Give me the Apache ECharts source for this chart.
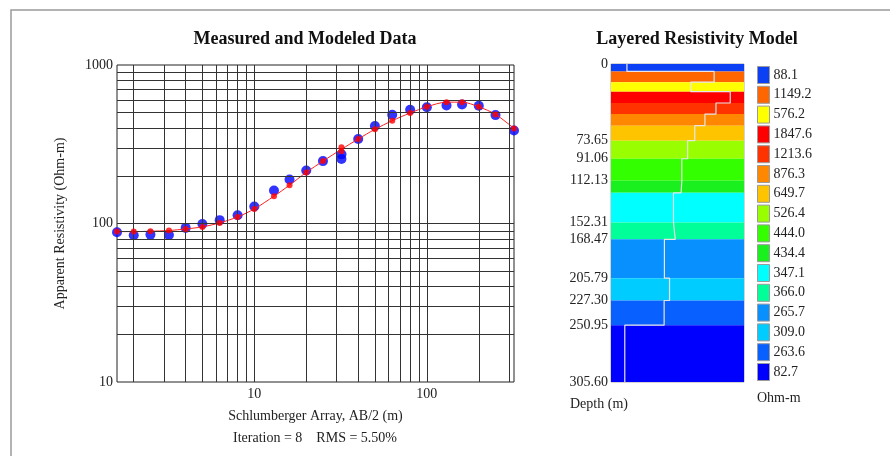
<!DOCTYPE html>
<html>
<head>
    <meta charset="utf-8">
    <title>Measured and Modeled Data</title>
    <script src="https://cdn.jsdelivr.net/npm/echarts@6/dist/echarts.min.js"></script>
</head>
<body style="margin:0;background:#fff">
    <div id="main" style="width: 890px;height:456px;"></div>
    <script type="text/javascript">
        // sounding data: AB/2 spacing, measured and modeled apparent resistivity
        var ab2 = [1.6, 2, 2.5, 3.2, 4, 5, 6.3, 8, 10, 13, 16, 20, 25, 32, 32, 40, 50, 63, 80, 100, 130, 160, 200, 250, 320];
        var measured = [88.1, 84.3, 85.1, 84.7, 93.8, 99.4, 105, 112.8, 128, 161.5, 189.6, 216, 247.6, 273, 255, 341, 412, 485, 522, 541, 556, 564, 553, 483, 386];
        var modeled = [88.9, 88.9, 89.4, 90.3, 92.4, 95.2, 100.9, 110, 123.6, 148.6, 174.6, 210, 247.6, 303, 286, 341, 393, 445, 498, 545, 583, 583, 545, 488, 398];
        // modeled curve (one value per spacing)
        var curveAb2 = [1.6, 2, 2.5, 3.2, 4, 5, 6.3, 8, 10, 13, 16, 20, 25, 32, 40, 50, 63, 80, 100, 130, 160, 200, 250, 320];
        var curveRho = [88.9, 88.9, 89.4, 90.3, 92.4, 95.2, 100.9, 110, 123.6, 148.6, 174.6, 210, 247.6, 294, 341, 393, 445, 498, 545, 583, 583, 545, 488, 398];

        // grid lines and tick labels of the log-log plot
        var xGridValues = [2, 3, 4, 5, 6, 7, 8, 9, 10, 20, 30, 40, 50, 60, 70, 80, 90, 100, 200, 300];
        var yGridValues = [20, 30, 40, 50, 60, 70, 80, 90, 100, 200, 300, 400, 500, 600, 700, 800, 900];
        var xTicks = [10, 100];
        var yTicks = [10, 100, 1000];

        // layered model
        var depthBounds = [0, 7.1, 17.5, 26.6, 37.5, 48.1, 59.3, 73.65, 91.06, 112.13, 123.8, 152.31, 168.47, 205.79, 227.30, 250.95, 305.60];
        var layerRho = [88.1, 1149.2, 576.2, 1847.6, 1213.6, 876.3, 649.7, 526.4, 444.0, 434.4, 347.1, 366.0, 265.7, 309.0, 263.6, 82.7];
        var depthTicks = [0, 73.65, 91.06, 112.13, 152.31, 168.47, 205.79, 227.30, 250.95, 305.60];
        var depthTickLabels = ['0', '73.65', '91.06', '112.13', '152.31', '168.47', '205.79', '227.30', '250.95', '305.60'];

        var layerColors = ['#0b40f5', '#ff6600', '#ffff00', '#ff0000', '#ff3300', '#ff8800', '#ffc400', '#99ff00',
            '#33ff00', '#19f01e', '#00ffff', '#00ff99', '#0890ff', '#00ccff', '#0860ff', '#0000ff'];

        var serif = 'Liberation Serif';
        var rhoMin = 55.1, rhoMax = 2771;

        var myChart = echarts.init(document.getElementById('main'));

        // one custom series per layer so the legend lists them
        var layerSeries = layerRho.map(function (r, i) {
            return {
                type: 'custom',
                name: r.toFixed(1),
                xAxisIndex: 1,
                yAxisIndex: 1,
                silent: true,
                itemStyle: { color: layerColors[i] },
                encode: { x: 0, y: [1, 2] },
                data: [[r, depthBounds[i], depthBounds[i + 1]]],
                renderItem: function (params, api) {
                    var p0 = api.coord([rhoMin, api.value(1)]);
                    var p1 = api.coord([rhoMax, api.value(2)]);
                    return {
                        type: 'rect',
                        shape: { x: p0[0], y: p0[1], width: p1[0] - p0[0], height: p1[1] - p0[1] },
                        style: { fill: api.visual('color') }
                    };
                },
                z: 2
            };
        });

        // step profile of the model
        var profile = [];
        layerRho.forEach(function (r, i) {
            profile.push([r, depthBounds[i]]);
            profile.push([r, depthBounds[i + 1]]);
        });

        var option = {
            animation: false,
            legend: {
                orient: 'vertical',
                left: 757,
                top: 66,
                padding: 0,
                itemWidth: 12,
                itemHeight: 17,
                itemGap: 1.8,
                icon: 'rect',
                selectedMode: false,
                itemStyle: { borderColor: '#9a9a9a', borderWidth: 1 },
                textStyle: { fontFamily: serif, fontSize: 14, color: '#222', padding: [0, 0, 0, -1] },
                data: layerRho.map(function (r) { return r.toFixed(1); })
            },
            grid: [
                { left: 117, top: 65, width: 397, height: 317, show: true, borderColor: '#222', borderWidth: 1 },
                { left: 611, top: 64, width: 133, height: 318, show: true, borderColor: '#aaa', borderWidth: 1 }
            ],
            xAxis: [
                {
                    type: 'log', logBase: 10, min: 1.6, max: 320, gridIndex: 0,
                    name: 'Schlumberger Array, AB/2 (m)', nameLocation: 'middle', nameGap: 27,
                    nameTextStyle: { fontFamily: serif, fontSize: 14, color: '#222' },
                    axisLine: { show: false }, axisTick: { show: false }, splitLine: { show: false },
                    axisLabel: {
                        customValues: xTicks, margin: 5,
                        fontFamily: serif, fontSize: 14, color: '#222',
                        formatter: function (v) { return String(Math.round(v)); }
                    }
                },
                { type: 'log', logBase: 10, min: rhoMin, max: rhoMax, gridIndex: 1, show: false }
            ],
            yAxis: [
                {
                    type: 'log', logBase: 10, min: 10, max: 1000, gridIndex: 0,
                    name: 'Apparent Resistivity (Ohm-m)', nameLocation: 'middle', nameGap: 50,
                    nameTextStyle: { fontFamily: serif, fontSize: 14, color: '#222' },
                    axisLine: { show: false }, axisTick: { show: false }, splitLine: { show: false },
                    axisLabel: {
                        customValues: yTicks, margin: 4,
                        fontFamily: serif, fontSize: 14, color: '#222',
                        formatter: function (v) { return String(Math.round(v)); }
                    }
                },
                {
                    type: 'value', inverse: true, min: 0, max: 305.6, gridIndex: 1,
                    axisLine: { show: false }, axisTick: { show: false }, splitLine: { show: false },
                    axisLabel: {
                        customValues: depthTicks, margin: 3,
                        fontFamily: serif, fontSize: 14, color: '#222',
                        formatter: function (v) {
                            var k = depthTicks.indexOf(v);
                            return k >= 0 ? depthTickLabels[k] : '';
                        }
                    }
                }
            ],
            graphic: [
                { type: 'rect', shape: { x: 11, y: 10, width: 1000, height: 1000 }, style: { fill: null, stroke: '#9a9a9a', lineWidth: 1.5 }, silent: true },
                { type: 'text', x: 305, y: 30, style: { text: 'Measured and Modeled Data', fontFamily: serif, fontSize: 18, fontWeight: 'bold', fill: '#111', align: 'center' } },
                { type: 'text', x: 697, y: 30, style: { text: 'Layered Resistivity Model', fontFamily: serif, fontSize: 18, fontWeight: 'bold', fill: '#111', align: 'center' } },
                { type: 'text', x: 315, y: 431, style: { text: 'Iteration = 8    RMS = 5.50%', fontFamily: serif, fontSize: 14, fill: '#222', align: 'center' } },
                { type: 'text', x: 570, y: 397, style: { text: 'Depth (m)', fontFamily: serif, fontSize: 14, fill: '#222' } },
                { type: 'text', x: 757, y: 391, style: { text: 'Ohm-m', fontFamily: serif, fontSize: 14, fill: '#222' } }
            ],
            series: [
                {
                    // log grid lines
                    type: 'line', data: [], xAxisIndex: 0, yAxisIndex: 0, z: 1, silent: true,
                    markLine: {
                        silent: true, symbol: 'none', label: { show: false },
                        lineStyle: { color: '#333', width: 1, type: 'solid' },
                        data: xGridValues.map(function (v) { return { xAxis: v }; })
                            .concat(yGridValues.map(function (v) { return { yAxis: v }; }))
                    }
                },
                {
                    type: 'scatter', name: 'Measured', xAxisIndex: 0, yAxisIndex: 0, z: 3,
                    symbolSize: 10, itemStyle: { color: '#0000ff' },
                    data: ab2.map(function (x, i) { return [x, measured[i]]; })
                },
                {
                    type: 'line', name: 'Model curve', xAxisIndex: 0, yAxisIndex: 0, z: 4,
                    smooth: 0.3, showSymbol: false, lineStyle: { color: '#ff2020', width: 1 },
                    data: curveAb2.map(function (x, i) { return [x, curveRho[i]]; })
                },
                {
                    type: 'scatter', name: 'Modeled', xAxisIndex: 0, yAxisIndex: 0, z: 5,
                    symbolSize: 6, itemStyle: { color: '#ff0000' },
                    data: ab2.map(function (x, i) { return [x, modeled[i]]; })
                }
            ].concat(layerSeries).concat([
                {
                    type: 'line', name: 'profile', xAxisIndex: 1, yAxisIndex: 1, z: 6, silent: true,
                    showSymbol: false, lineStyle: { color: '#e6e6e6', width: 1.2 },
                    data: profile
                }
            ])
        };
        myChart.setOption(option);
    </script>
</body>
</html>
